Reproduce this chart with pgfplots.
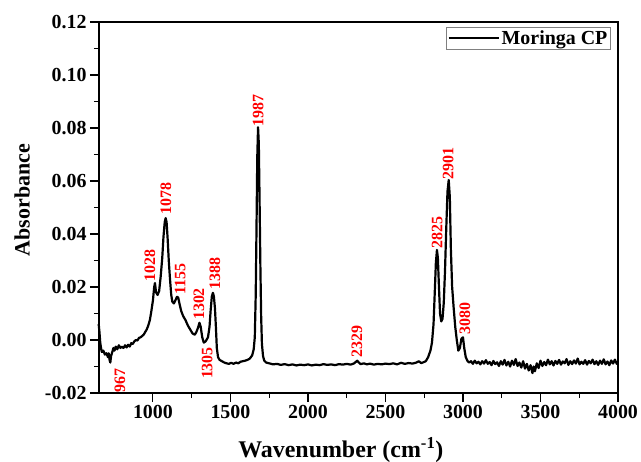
\documentclass[border=0pt]{standalone}
\usepackage{pgfplots}
\pgfplotsset{compat=1.18}
\usepackage{fontspec}
\setmainfont{Liberation Serif}

\pgfplotstableread{
x y
650 0.0060
655 0.0030
660 -0.0010
665 -0.0030
670 -0.0045
680 -0.0040
690 -0.0055
700 -0.0050
710 -0.0065
715 -0.0050
720 -0.0075
725 -0.0085
730 -0.0060
738 -0.0045
745 -0.0030
752 -0.0040
760 -0.0025
770 -0.0035
780 -0.0020
790 -0.0030
800 -0.0025
810 -0.0030
820 -0.0020
830 -0.0028
840 -0.0018
850 -0.0025
860 -0.0012
870 -0.0015
880 -0.0005
890 0.0000
900 -0.0002
910 0.0008
920 0.0010
930 0.0015
940 0.0020
950 0.0030
960 0.0040
970 0.0055
980 0.0075
990 0.0110
1000 0.0150
1008 0.0200
1013 0.0215
1020 0.0180
1030 0.0170
1040 0.0185
1050 0.0240
1060 0.0310
1068 0.0390
1076 0.0445
1082 0.0460
1088 0.0445
1095 0.0380
1102 0.0300
1110 0.0230
1118 0.0170
1125 0.0145
1135 0.0138
1145 0.0150
1155 0.0163
1163 0.0160
1172 0.0135
1182 0.0110
1195 0.0090
1210 0.0075
1225 0.0055
1240 0.0040
1255 0.0025
1270 0.0020
1280 0.0030
1290 0.0045
1300 0.0065
1308 0.0050
1318 0.0010
1328 -0.0010
1340 -0.0005
1355 0.0010
1365 0.0050
1372 0.0110
1380 0.0165
1387 0.0178
1393 0.0165
1400 0.0120
1406 0.0050
1412 -0.0030
1420 -0.0065
1430 -0.0075
1445 -0.0080
1460 -0.0085
1475 -0.0088
1490 -0.0090
1505 -0.0086
1520 -0.0090
1535 -0.0085
1550 -0.0088
1565 -0.0082
1580 -0.0080
1595 -0.0078
1610 -0.0075
1625 -0.0070
1640 -0.0058
1650 -0.0035
1657 0.0010
1663 0.0170
1668 0.0420
1673 0.0690
1678 0.0803
1683 0.0740
1688 0.0520
1693 0.0280
1698 0.0090
1703 -0.0015
1710 -0.0060
1718 -0.0078
1730 -0.0085
1750 -0.0088
1775 -0.0092
1800 -0.0090
1825 -0.0094
1850 -0.0091
1875 -0.0095
1900 -0.0092
1925 -0.0096
1950 -0.0093
1975 -0.0095
2000 -0.0092
2025 -0.0096
2050 -0.0093
2075 -0.0095
2100 -0.0091
2125 -0.0094
2150 -0.0092
2175 -0.0095
2200 -0.0091
2225 -0.0093
2250 -0.0090
2275 -0.0093
2295 -0.0089
2310 -0.0082
2318 -0.0078
2326 -0.0084
2340 -0.0091
2360 -0.0088
2380 -0.0092
2400 -0.0089
2425 -0.0093
2450 -0.0090
2475 -0.0092
2500 -0.0089
2525 -0.0091
2550 -0.0088
2575 -0.0092
2600 -0.0086
2625 -0.0090
2650 -0.0087
2675 -0.0089
2700 -0.0085
2715 -0.0080
2730 -0.0087
2745 -0.0084
2760 -0.0080
2775 -0.0065
2790 -0.0040
2800 -0.0010
2810 0.0060
2818 0.0180
2825 0.0290
2832 0.0340
2838 0.0310
2845 0.0200
2852 0.0100
2860 0.0070
2868 0.0080
2876 0.0140
2884 0.0260
2892 0.0420
2900 0.0560
2908 0.0604
2915 0.0540
2922 0.0340
2930 0.0200
2940 0.0120
2950 0.0050
2960 0.0000
2970 -0.0040
2980 -0.0030
2990 0.0005
3000 0.0010
3008 -0.0030
3018 -0.0065
3030 -0.0080
3040 -0.0085
3052 -0.0080
3064 -0.0090
3076 -0.0078
3088 -0.0088
3100 -0.0082
3112 -0.0092
3124 -0.0080
3136 -0.0089
3148 -0.0076
3160 -0.0090
3172 -0.0083
3184 -0.0095
3196 -0.0079
3208 -0.0091
3220 -0.0084
3232 -0.0098
3244 -0.0080
3256 -0.0093
3268 -0.0075
3280 -0.0096
3292 -0.0082
3304 -0.0100
3316 -0.0078
3328 -0.0094
3340 -0.0072
3352 -0.0098
3364 -0.0085
3376 -0.0104
3388 -0.0080
3400 -0.0108
3412 -0.0090
3424 -0.0115
3436 -0.0095
3448 -0.0125
3456 -0.0100
3464 -0.0118
3476 -0.0088
3488 -0.0106
3500 -0.0078
3512 -0.0098
3524 -0.0083
3536 -0.0095
3548 -0.0074
3560 -0.0092
3572 -0.0080
3584 -0.0096
3596 -0.0079
3608 -0.0090
3620 -0.0075
3632 -0.0093
3644 -0.0081
3656 -0.0088
3668 -0.0072
3680 -0.0094
3692 -0.0080
3704 -0.0091
3716 -0.0077
3728 -0.0089
3740 -0.0070
3752 -0.0092
3764 -0.0082
3776 -0.0090
3788 -0.0076
3800 -0.0093
3812 -0.0079
3824 -0.0088
3836 -0.0074
3848 -0.0091
3860 -0.0080
3872 -0.0094
3884 -0.0078
3896 -0.0090
3908 -0.0073
3920 -0.0092
3932 -0.0081
3944 -0.0095
3956 -0.0077
3968 -0.0089
3980 -0.0074
3992 -0.0090
4000 -0.0082
}\spectrum

% peak annotations: position, label base height, text
\pgfplotstableread{
x y t
787 -0.0197 967
981 0.0220 1028
1084 0.0472 1078
1175 0.0170 1155
1297 0.0075 1302
1400 0.0189 1388
1678 0.0806 1987
2316 -0.0068 2329
2833 0.0345 2825
2904 0.0606 2901
3013 0.0020 3080
}\peaks

\begin{document}
\begin{tikzpicture}
\useasboundingbox (-99bp,-69bp) rectangle (542bp,393bp);
\begin{axis}[
  scale only axis,
  width=519bp, height=371bp,
  xmin=652, xmax=4000,
  ymin=-0.02, ymax=0.12,
  xtick={1000,1500,2000,2500,3000,3500,4000},
  ytick={-0.02,0,0.02,0.04,0.06,0.08,0.10,0.12},
  minor x tick num=1,
  minor y tick num=1,
  tick pos=left,
  tick align=outside,
  major tick length=9bp,
  minor tick length=5bp,
  every tick/.style={black, line width=1.1bp},
  axis line style={line width=1.4bp},
  /pgf/number format/assume math mode=true,
  ticklabel style={font=\bfseries\fontsize{20}{20}\selectfont},
  xticklabel style={/pgf/number format/1000 sep={}},
  yticklabel style={/pgf/number format/.cd, fixed, fixed zerofill, precision=2},
  scaled y ticks=false,
  xlabel={Wavenumber (cm\textsuperscript{-1})},
  ylabel={Absorbance},
  xlabel style={font=\bfseries\fontsize{24}{24}\selectfont,
    at={(axis description cs:0.466,-0.175)}, anchor=base},
  ylabel style={font=\bfseries\fontsize{22}{22}\selectfont,
    at={(axis description cs:-0.148,0.52)}, anchor=center},
  clip=false,
  legend style={at={(0.987,0.987)}, anchor=north east,
    draw=gray, line width=0.8bp, inner sep=1.5bp,
    font=\bfseries\fontsize{20}{20}\selectfont},
  legend cell align=left,
  legend image code/.code={\draw[black, line width=2bp] (0bp,0bp) -- (50bp,0bp);},
]
\addplot[black, line width=2.2bp, line join=round] table[x=x, y=y] {\spectrum};
\addlegendentry{Moringa CP}
\addplot[only marks, mark=none, red,
  nodes near coords={\pgfplotspointmeta},
  point meta=explicit symbolic,
  every node near coord/.style={rotate=90, anchor=west, inner sep=0pt,
    text=red, font=\bfseries\fontsize{16}{16}\selectfont}]
  table[x=x, y=y, meta=t] {\peaks};
\node[rotate=90, anchor=east, inner sep=0pt, text=red,
  font=\bfseries\fontsize{16}{16}\selectfont] at (axis cs:1349,-0.0026) {1305};
\end{axis}
\end{tikzpicture}
\end{document}
